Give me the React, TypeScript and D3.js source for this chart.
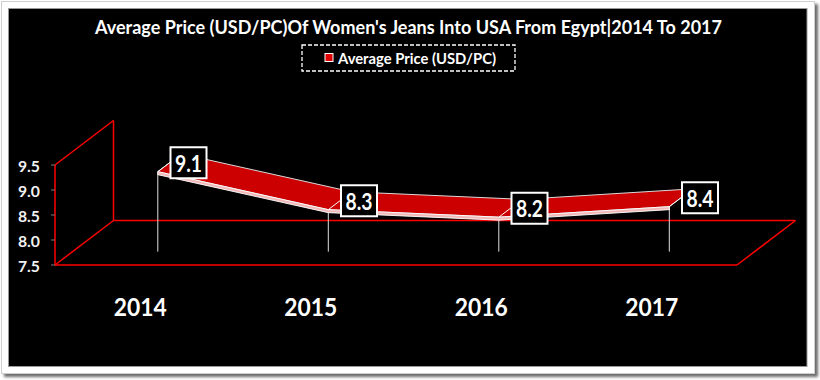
import React from "react";
import * as d3 from "d3";

const categories = ["2014", "2015", "2016", "2017"];
const values = [9.1, 8.34, 8.19, 8.4];
const yTicks = [7.5, 8.0, 8.5, 9.0, 9.5];
const title = "Average Price (USD/PC)Of Women's Jeans Into USA From Egypt|2014 To 2017";
const seriesName = "Average Price (USD/PC)";

export default function App() {
  const W = 820, H = 380;
  const x0 = 55, x1 = 737;
  const yBottom = 265, yTop = 165;
  const DX = 58.5, DY = -44.5;
  const zf = 0.3, zb = 0.7, zm = 0.5;
  const font = "Lato, 'Open Sans', sans-serif";

  const x = d3.scalePoint<string>().domain(categories).range([x0, x1]).padding(0.5);
  const y = d3.scaleLinear().domain([7.5, 9.5]).range([yBottom, yTop]);
  const proj = (px: number, py: number, z: number): [number, number] => [px + z * DX, py + z * DY];

  const F = categories.map((c, i) => proj(x(c)!, y(values[i]), zf));
  const B = categories.map((c, i) => proj(x(c)!, y(values[i]), zb));
  const M = categories.map((c, i) => proj(x(c)!, y(values[i]), zm));
  const line = d3.line();
  const top = line([...F, ...B.slice().reverse()])! + "Z";
  const thick = 3;
  const frontFace = line([...F, ...F.slice().reverse().map(([a, b]) => [a, b + thick] as [number, number])])! + "Z";
  const floorY = (z: number) => yBottom + z * DY;
  const fmt = d3.format(".1f");
  const red = "#ff0000";

  const wallTopFront = proj(x0, yTop, 0);
  const wallTopBack = proj(x0, yTop, 1);
  const wallBotBack = proj(x0, yBottom, 1);
  const floorRightBack = proj(x1, yBottom, 1);

  return (
    <svg width={W} height={H} style={{ position: "absolute", left: 0, top: 0 }}>
      <defs>
        <filter id="sh" x="-5%" y="-5%" width="110%" height="110%">
          <feGaussianBlur stdDeviation="1.5" />
        </filter>
      </defs>
      <rect x={0} y={0} width={W} height={H} fill="#ffffff" />
      <rect x={4} y={4} width={814} height={373} fill="#6a6a6a" filter="url(#sh)" />
      <rect x={1.5} y={1.5} width={813} height={372} fill="#ffffff" stroke="#cfcfcf" />
      <rect x={8.5} y={8.5} width={798.5} height={358} fill="#000000" stroke="#9a9a9a" />

      {/* Title */}
      <text x={408.5} y={27} textAnchor="middle" dominantBaseline="central" fill="#ffffff"
        fontFamily={font} fontWeight={700} fontSize={18} textLength={627} lengthAdjust="spacingAndGlyphs">
        {title}
      </text>

      {/* Legend */}
      <rect x={302} y={45} width={213} height={26} fill="none" stroke="#ffffff" strokeWidth={1.3} strokeDasharray="4,2" />
      <rect x={325} y={53.5} width={8} height={8} fill="#e00000" stroke="#ffffff" strokeWidth={1} />
      <text x={338} y={58} dominantBaseline="central" fill="#ffffff" fontFamily={font} fontWeight={700}
        fontSize={15} textLength={158} lengthAdjust="spacingAndGlyphs">
        {seriesName}
      </text>

      {/* Side wall and floor */}
      <g stroke={red} strokeWidth={1.5} fill="none">
        <line x1={x0} y1={yTop} x2={x0} y2={yBottom} />
        <line x1={wallTopFront[0]} y1={wallTopFront[1]} x2={wallTopBack[0]} y2={wallTopBack[1]} />
        <line x1={wallTopBack[0]} y1={wallTopBack[1]} x2={wallBotBack[0]} y2={wallBotBack[1]} />
        <line x1={x0} y1={yBottom} x2={wallBotBack[0]} y2={wallBotBack[1]} />
        <line x1={x0} y1={yBottom} x2={x1} y2={yBottom} />
        <line x1={wallBotBack[0]} y1={wallBotBack[1]} x2={floorRightBack[0]} y2={floorRightBack[1]} />
        <line x1={x1} y1={yBottom} x2={floorRightBack[0]} y2={floorRightBack[1]} />
      </g>

      {/* Y axis ticks and labels */}
      {yTicks.map((t) => (
        <g key={t}>
          <line x1={x0 - 4} x2={x0} y1={y(t)} y2={y(t)} stroke="#7f7f7f" strokeWidth={1} />
          <text x={40} y={y(t)} textAnchor="end" dominantBaseline="central" fill="#f2f2f2"
            fontFamily={font} fontWeight={700} fontSize={16} textLength={22} lengthAdjust="spacingAndGlyphs">
            {t.toFixed(1)}
          </text>
        </g>
      ))}

      {/* Drop lines */}
      {F.map(([fx, fy], i) => (
        <line key={i} x1={fx} y1={fy} x2={fx} y2={floorY(zf)} stroke="#e0e0e0" strokeWidth={1} />
      ))}

      {/* Ribbon */}
      <path d={top} fill="#cc0000" stroke="#d8d8d8" strokeWidth={1} strokeLinejoin="round" />
      <path d={frontFace} fill="#f3b8b8" stroke="#ffffff" strokeWidth={0.9} strokeLinejoin="round" />
      {F.map(([fx, fy], i) => (
        <line key={i} x1={fx} y1={fy} x2={B[i][0]} y2={B[i][1]} stroke="#ffffff" strokeWidth={1} />
      ))}

      {/* Data labels */}
      {M.map(([mx, my], i) => (
        <g key={i}>
          <rect x={mx + 19 - 18} y={my - 15.5} width={36} height={31} fill="#000000" stroke="#ffffff" strokeWidth={2} />
          <text x={mx + 19} y={my + 0.5} textAnchor="middle" dominantBaseline="central" fill="#ffffff"
            fontFamily={font} fontWeight={700} fontSize={22} textLength={27} lengthAdjust="spacingAndGlyphs">
            {fmt(values[i])}
          </text>
        </g>
      ))}

      {/* Category labels */}
      {categories.map((c) => (
        <text key={c} x={x(c)!} y={306} textAnchor="middle" dominantBaseline="central" fill="#ffffff"
          fontFamily={font} fontWeight={700} fontSize={25} textLength={53} lengthAdjust="spacingAndGlyphs">
          {c}
        </text>
      ))}
    </svg>
  );
}
